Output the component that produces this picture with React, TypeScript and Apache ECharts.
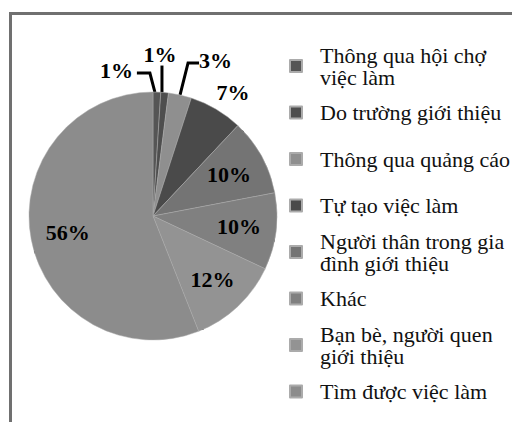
import React, { useEffect, useRef } from 'react';
import * as echarts from 'echarts';

const categories = [
  'Thông qua hội chợ việc làm',
  'Do trường giới thiệu',
  'Thông qua quảng cáo',
  'Tự tạo việc làm',
  'Người thân trong gia đình giới thiệu',
  'Khác',
  'Bạn bè, người quen giới thiệu',
  'Tìm được việc làm',
];
const legendLines = [
  'Thông qua hội chợ\nviệc làm',
  'Do trường giới thiệu',
  'Thông qua quảng cáo',
  'Tự tạo việc làm',
  'Người thân trong gia\nđình giới thiệu',
  'Khác',
  'Bạn bè, người quen\ngiới thiệu',
  'Tìm được việc làm',
];
const values = [1, 1, 3, 7, 10, 10, 12, 56];
const colors = ['#555555', '#4e4e4e', '#8f8f8f', '#4a4a4a', '#747474', '#808080', '#939393', '#8c8c8c'];

const CX = 153;
const CY = 216;
const R = 124;
const INSIDE_RATIO = 0.7;
const FONT = 'Liberation Serif';

export default function App() {
  const ref = useRef<HTMLDivElement>(null);
  useEffect(() => {
    if (!ref.current) return;
    const chart = echarts.init(ref.current, undefined, { renderer: 'svg' });
    const data = categories.map((name, i) => {
      const item: any = { name, value: values[i], itemStyle: { color: colors[i] } };
      if (i >= 4) item.label = { position: 'inside' };
      if (i === 3) item.labelLine = { lineStyle: { opacity: 0 } };
      return item;
    });
    const legends = categories.map((name, i) => {
      const twoLine = legendLines[i].indexOf('\n') >= 0;
      const iconC = 66 + i * 46.5;
      const top = twoLine ? iconC - 26 : iconC - 16;
      return {
        data: [name],
        left: 289,
        top,
        padding: 0,
        orient: 'vertical',
        icon: 'rect',
        itemWidth: 12,
        itemHeight: 12,
        selectedMode: false,
        formatter: (n: string) => legendLines[categories.indexOf(n)],
        textStyle: {
          fontFamily: FONT,
          fontSize: 22,
          lineHeight: 22,
          color: '#111111',
          padding: twoLine ? [8, 0, 0, 13] : [0, 0, 10, 13],
        },
      };
    });
    chart.setOption({
      animation: false,
      backgroundColor: '#ffffff',
      graphic: [
        {
          type: 'rect',
          silent: true,
          z: -10,
          shape: { x: 10.5, y: 13.5, width: 800, height: 800 },
          style: { fill: 'none', stroke: '#707070', lineWidth: 3 },
        },
      ],
      legend: legends,
      series: [
        {
          type: 'pie',
          center: [CX, CY],
          radius: [0, R],
          startAngle: 90,
          clockwise: true,
          avoidLabelOverlap: false,
          data,
          itemStyle: { borderColor: '#ababab', borderWidth: 0.5 },
          label: {
            show: true,
            position: 'outside',
            formatter: '{c}%',
            fontFamily: FONT,
            fontWeight: 'bold',
            fontSize: 22,
            color: '#000000',
          },
          labelLine: {
            show: true,
            length: 15,
            length2: 10,
            lineStyle: { color: '#000000', width: 3 },
          },
          emphasis: { disabled: true },
          labelLayout: (p: any) => {
            const i = p.dataIndex;
            const pts = p.labelLinePoints;
            if (i <= 2 && pts && pts.length) {
              const ex = pts[0][0];
              const ey = pts[0][1];
              if (i === 0) {
                return {
                  x: ex - 24, y: ey - 22, align: 'right', verticalAlign: 'middle',
                  labelLinePoints: [[ex - 2, ey], [ex - 7, ey - 19], [ex - 20, ey - 19]],
                };
              }
              if (i === 1) {
                return {
                  x: ex - 4.7, y: ey - 37.6, align: 'center', verticalAlign: 'middle',
                  labelLinePoints: [[ex - 2.7, ey], [ex - 2.7, ey - 27]],
                };
              }
              return {
                x: ex + 19, y: ey - 34.5, align: 'left', verticalAlign: 'middle',
                labelLinePoints: [[ex, ey], [ex + 8, ey - 32], [ex + 19, ey - 32]],
              };
            }
            if (i === 3 && pts && pts.length) {
              return { x: pts[0][0] + 17, y: pts[0][1] - 17, align: 'center', verticalAlign: 'middle' };
            }
            if (i >= 4) {
              const r = p.labelRect;
              const lx = r.x + r.width / 2;
              const ly = r.y + r.height / 2;
              const dx = lx - CX;
              const dy = ly - CY;
              const d = Math.hypot(dx, dy) || 1;
              return {
                x: CX + (dx / d) * R * INSIDE_RATIO,
                y: CY + (dy / d) * R * INSIDE_RATIO,
                align: 'center',
                verticalAlign: 'middle',
              };
            }
            return {};
          },
        },
      ],
    });
    return () => chart.dispose();
  }, []);
  return (
    <div
      ref={ref}
      style={{ position: 'fixed', left: 0, top: 0, width: 512, height: 422, background: '#ffffff' }}
    />
  );
}
